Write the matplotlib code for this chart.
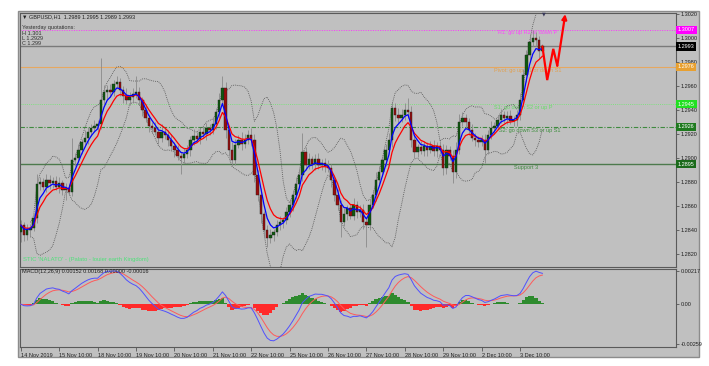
import matplotlib
matplotlib.use('Agg')
import matplotlib.pyplot as plt
import matplotlib.transforms as mtransforms
from matplotlib.patches import Rectangle
import numpy as np
import pandas as pd

plt.rcParams['font.family'] = ['Liberation Sans', 'DejaVu Sans']

# ---------------- data (GBPUSD, candles of two hours) ----------------
first_open = 1.2838
closes = [
    1.2844, 1.2836, 1.2840, 1.2842, 1.2850, 1.2878, 1.2880, 1.2876, 1.2882, 1.2879,
    1.2881, 1.2876, 1.2879, 1.2873, 1.2875, 1.2872, 1.2898, 1.2900, 1.2907, 1.2913,
    1.2917, 1.2922, 1.2925, 1.2927, 1.2928, 1.2948, 1.2955, 1.2957, 1.2955, 1.2962,
    1.2963, 1.2957, 1.2952, 1.2948, 1.2951, 1.2953, 1.2955, 1.2948, 1.2940, 1.2933,
    1.2927, 1.2925, 1.2922, 1.2917, 1.2922, 1.2919, 1.2915, 1.2910, 1.2907, 1.2902,
    1.2900, 1.2903, 1.2907, 1.2915, 1.2918, 1.2916, 1.2922, 1.2920, 1.2925, 1.2923,
    1.2928, 1.2938, 1.2948, 1.2958, 1.2923, 1.2907, 1.2898, 1.2911, 1.2915, 1.2912,
    1.2915, 1.2919, 1.2915, 1.2886, 1.2869, 1.2853, 1.2840, 1.2833, 1.2836, 1.2838,
    1.2844, 1.2847, 1.2848, 1.2855, 1.2861, 1.2869, 1.2878, 1.2886, 1.2905, 1.2894,
    1.2899, 1.2895, 1.2899, 1.2894, 1.2896, 1.2893, 1.2892, 1.2882, 1.2869, 1.2861,
    1.2847, 1.2853, 1.2858, 1.2852, 1.2861, 1.2855, 1.2857, 1.2847, 1.2844, 1.2861,
    1.2869, 1.2882, 1.2888, 1.2898, 1.2907, 1.2915, 1.2942, 1.2936, 1.2933, 1.2936,
    1.2940, 1.2938, 1.2915, 1.2905, 1.2909, 1.2906, 1.2910, 1.2907, 1.2910, 1.2906,
    1.2910, 1.2907, 1.2892, 1.2907, 1.2902, 1.2888, 1.2907, 1.2930, 1.2933, 1.2930,
    1.2923, 1.2917, 1.2915, 1.2913, 1.2915, 1.2907, 1.2919, 1.2925, 1.2927, 1.2932,
    1.2936, 1.2933, 1.2935, 1.2931, 1.2932, 1.2936, 1.2948, 1.2969, 1.2986, 1.2997,
    1.3000, 1.2998, 1.2989, 1.2993]
upper_wick_pips = [
    4, 3, 5, 3, 4, 9, 4, 3, 5, 4,
    3, 4, 5, 3, 4, 3, 19, 4, 5, 3,
    6, 4, 3, 5, 4, 35, 6, 4, 5, 3,
    5, 4, 3, 6, 4, 5, 13, 4, 3, 5,
    4, 3, 5, 4, 6, 3, 4, 5, 3, 4,
    3, 5, 4, 3, 6, 4, 3, 5, 4, 3,
    5, 4, 6, 10, 5, 4, 6, 5, 4, 7,
    5, 4, 6, 5, 4, 6, 3, 4, 5, 3,
    4, 5, 3, 4, 5, 4, 6, 5, 16, 4,
    5, 3, 4, 5, 3, 4, 5, 3, 4, 5,
    4, 5, 3, 4, 6, 3, 4, 5, 3, 5,
    4, 6, 5, 4, 5, 6, 5, 4, 6, 5,
    6, 10, 5, 4, 3, 5, 4, 3, 4, 5,
    3, 4, 5, 4, 3, 5, 6, 7, 5, 4,
    3, 5, 4, 3, 4, 5, 4, 6, 3, 4,
    5, 3, 4, 5, 3, 4, 6, 5, 4, 6,
    7, 5, 4, 2]
lower_wick_pips = [
    8, 5, 4, 6, 3, 4, 5, 3, 4, 5,
    4, 3, 5, 4, 8, 3, 4, 5, 3, 4,
    3, 5, 4, 3, 5, 4, 3, 6, 4, 3,
    4, 5, 6, 3, 4, 5, 3, 4, 5, 3,
    5, 4, 3, 5, 4, 3, 5, 4, 6, 4,
    13, 4, 3, 5, 4, 3, 4, 3, 5, 4,
    3, 4, 5, 4, 6, 5, 5, 4, 3, 5,
    4, 3, 5, 6, 5, 7, 6, 7, 4, 5,
    3, 4, 5, 3, 4, 5, 3, 4, 5, 4,
    3, 4, 5, 3, 4, 5, 4, 6, 5, 4,
    13, 4, 5, 3, 4, 5, 4, 6, 18, 4,
    3, 5, 4, 3, 5, 4, 6, 5, 4, 3,
    4, 5, 6, 5, 4, 3, 4, 5, 3, 4,
    5, 4, 6, 5, 4, 9, 5, 4, 3, 5,
    4, 3, 5, 4, 3, 11, 4, 3, 5, 4,
    3, 4, 5, 3, 4, 5, 4, 5, 6, 5,
    4, 5, 6, 0]

tick_labels = ['14 Nov 2019', '15 Nov 10:00', '18 Nov 10:00', '19 Nov 10:00',
               '20 Nov 10:00', '21 Nov 10:00', '22 Nov 10:00', '25 Nov 10:00',
               '26 Nov 10:00', '27 Nov 10:00', '28 Nov 10:00', '29 Nov 10:00',
               '2 Dec 10:00', '3 Dec 10:00']
price_ticks = [1.2820, 1.2840, 1.2860, 1.2880, 1.2900, 1.2920, 1.2940,
               1.2960, 1.2980, 1.3000, 1.3020]
macd_ticks = [-0.00259, 0.0, 0.00217]
macd_tick_labels = ['-0.00259', '0.00', '0.00217']

level_values = [1.3007, 1.2993, 1.2976, 1.2945, 1.2926, 1.2895]
level_texts = ['R1: go up R2 or down P', None, 'Pivot: go up R1 or down S1',
               'S1: go down S2 or up P', 'S2: go down S3 or up S1', 'Support 3']

forecast_hours = [326, 329, 332.8, 335.3, 340.3]
forecast_prices = [1.2993, 1.2965, 1.2991, 1.2977, 1.3020]

header = '\u25bc GBPUSD,H1  1.2989 1.2995 1.2989 1.2993'
yesterday_lines = ['Yesterday quotations:', 'H 1.301', 'L 1.2929', 'C 1.299']
macd_header = 'MACD(12,26,9) 0.00152 0.00168 0.00000 -0.00016'
bottom_note = "STIC 'NALATO' - (Palato - louier earth Kingdom)"

# ---------------- derived ----------------
n = len(closes)
hours = np.arange(n) * 2.0
c = np.array(closes)
o = np.array([first_open] + closes[:-1])
hi = np.maximum(o, c) + np.array(upper_wick_pips) * 0.0001
lo = np.minimum(o, c) - np.array(lower_wick_pips) * 0.0001
s = pd.Series(c)
ema_fast = s.ewm(span=4, adjust=False).mean()
ema_slow = s.ewm(span=7, adjust=False).mean()
bb_mid = s.rolling(10, min_periods=4).mean()
bb_sd = s.rolling(10, min_periods=4).std(ddof=0)
bb_up = bb_mid + 2 * bb_sd
bb_dn = bb_mid - 2 * bb_sd
macd = s.ewm(span=8, adjust=False).mean() - s.ewm(span=18, adjust=False).mean()
signal = macd.ewm(span=5, adjust=False).mean()
hist = macd - signal

# ---------------- figure ----------------
W, H = 709, 366
fig = plt.figure(figsize=(W / 100, H / 100), dpi=100)
fig.patch.set_facecolor('white')

def fx(px):
    return px / W

def fy(py):
    return 1 - py / H

BG = '#c0c0c0'
fig.patches.append(Rectangle((fx(18), fy(357)), fx(699) - fx(18), fy(11) - fy(357),
                             transform=fig.transFigure, fc=BG, ec='#8c8c8c', lw=1.0, zorder=-10))

ax = fig.add_axes([fx(20), fy(267), fx(676) - fx(20), fy(13) - fy(267)])
ax2 = fig.add_axes([fx(20), fy(347), fx(676) - fx(20), fy(269) - fy(347)])
for a in (ax, ax2):
    a.set_facecolor(BG)
    for sp in a.spines.values():
        sp.set_color('#5a5a5a')
        sp.set_linewidth(0.8)
    a.set_xlim(-0.5, 409.5)

# levels
level_styles = [dict(color='#ff33ff', ls=(0, (1, 1.5)), lw=0.7),
                dict(color='#7a7a7a', ls='-', lw=1.0),
                dict(color='#e6a860', ls='-', lw=0.8),
                dict(color='#7fe07f', ls=(0, (1, 1.2)), lw=0.7),
                dict(color='#3f8a3f', ls=(0, (4, 1.5, 1, 1.5)), lw=0.8),
                dict(color='#4d7a4d', ls='-', lw=1.0)]
level_text_colors = ['#ff44ff', None, '#e0a050', '#66dd66', '#3f8f3f', '#3f8a3f']
level_text_hours = [298, None, 296, 296, 299, 308]
level_text_offsets = [-0.00025, None, -0.00030, -0.00025, -0.00033, -0.00030]
level_box_colors = ['#ff00ff', '#000000', '#e8a030', '#22e022', '#1f7a1f', '#1a6a1a']
for i, v in enumerate(level_values):
    ax.axhline(v, zorder=1, **level_styles[i])
    if level_texts[i]:
        ax.text(level_text_hours[i], v + level_text_offsets[i], level_texts[i],
                fontsize=4, color=level_text_colors[i], va='center', ha='left', zorder=2)
    tr = mtransforms.blended_transform_factory(ax.transAxes, ax.transData)
    ax.text(1.003, v, f'{v:.4f}', transform=tr, fontsize=4, color='white',
            ha='left', va='center', zorder=6, clip_on=False,
            bbox=dict(boxstyle='square,pad=0.3', fc=level_box_colors[i], ec='none'))

# bollinger bands
ax.plot(hours, bb_up, color='#505050', ls=(0, (1, 1.3)), lw=0.6, zorder=2)
ax.plot(hours, bb_dn, color='#505050', ls=(0, (1, 1.3)), lw=0.6, zorder=2)

# candles
ax.vlines(hours, lo, hi, color='#8a8a8a', lw=0.6, zorder=3)
bull = c >= o
body_h = np.maximum(np.abs(c - o), 0.00004)
body_b = np.minimum(o, c)
ax.bar(hours[bull], body_h[bull], bottom=body_b[bull], width=1.4,
       color='#0e5a0e', ec='#202020', lw=0.3, zorder=4)
ax.bar(hours[~bull], body_h[~bull], bottom=body_b[~bull], width=1.4,
       color='#9a0c0c', ec='#202020', lw=0.3, zorder=4)

# moving averages
ax.plot(hours, ema_slow, color='#ff0000', lw=0.9, zorder=5)
ax.plot(hours, ema_fast, color='#0000ff', lw=0.9, zorder=5)

# forecast arrow
ax.plot(forecast_hours[:-1], forecast_prices[:-1], color='#ff0000', lw=1.6, zorder=7,
        solid_capstyle='round', solid_joinstyle='miter')
ax.annotate('', xy=(forecast_hours[-1], forecast_prices[-1]),
            xytext=(forecast_hours[-2], forecast_prices[-2]),
            arrowprops=dict(arrowstyle='-|>', color='#ff0000', lw=1.6, mutation_scale=7,
                            shrinkA=0, shrinkB=0), zorder=7, annotation_clip=False)
ax.text(327, 1.30205, '\u25bc', fontsize=3.5, color='#3a3a5a', ha='center', va='center',
        family='DejaVu Sans', zorder=7)

ax.set_ylim(1.28092, 1.30209)
ax.yaxis.tick_right()
ax.set_yticks(price_ticks)
ax.set_yticklabels([f'{p:.4f}' for p in price_ticks])
ax.tick_params(axis='y', length=2, width=0.5, color='#404040', labelsize=4,
               labelcolor='#202020', pad=1.5)
ax.set_xticks([])

# MACD panel
hist_colors = np.where(hist >= 0, '#2e8b2e', '#ff2a2a')
ax2.bar(hours, hist, width=2.0, color=hist_colors, lw=0, zorder=2)
ax2.plot(hours, signal, color='#ff5a5a', lw=0.7, zorder=3)
ax2.plot(hours, macd, color='#5050ff', lw=0.7, zorder=3)
ax2.set_ylim(-0.00279, 0.00230)
ax2.yaxis.tick_right()
ax2.set_yticks(macd_ticks)
ax2.set_yticklabels(macd_tick_labels)
ax2.tick_params(axis='y', length=2, width=0.5, color='#404040', labelsize=4,
                labelcolor='#202020', pad=1.5)
ax2.set_xticks(np.arange(len(tick_labels)) * 24)
ax2.set_xticklabels(tick_labels)
ax2.tick_params(axis='x', length=3, width=0.5, color='#404040', labelsize=4,
                labelcolor='#202020', pad=1.5)
for lab in ax2.get_xticklabels():
    lab.set_ha('left')

# header texts
fig.text(fx(22), fy(17), header, fontsize=4, color='#202020', va='center', ha='left')
for i, t in enumerate(yesterday_lines):
    fig.text(fx(22), fy(27 + 5.3 * i + (0 if i == 0 else 1)), t, fontsize=4,
             color='#303030', va='center', ha='left')
fig.text(fx(22), fy(272), macd_header, fontsize=4, color='#202020', va='center', ha='left')
fig.text(fx(23), fy(259), bottom_note, fontsize=4.2, color='#4fe07a', va='center', ha='left')

fig.savefig('out.png', dpi=100, facecolor='white')
